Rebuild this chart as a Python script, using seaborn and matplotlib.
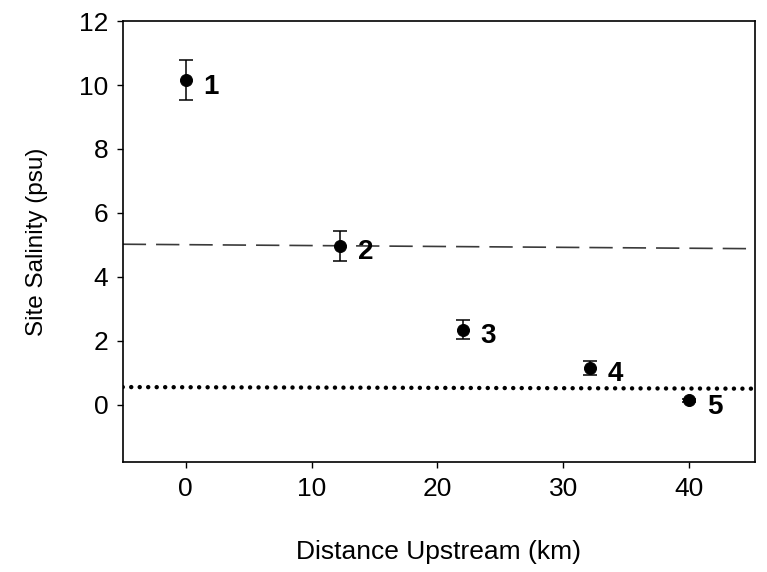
import matplotlib
matplotlib.use("Agg")
import matplotlib.pyplot as plt
import pandas as pd
import seaborn as sns

# site data
sites = ["1", "2", "3", "4", "5"]
distance_km = [0.0, 12.25, 22.0, 32.1, 40.0]
salinity = [10.15, 4.97, 2.35, 1.15, 0.13]
salinity_se = [0.62, 0.46, 0.29, 0.23, 0.05]

# reference lines (two end points each)
dash_x = [-5, 45.2]
dash_y = [5.02, 4.88]
dot_x = [-5, 45.2]
dot_y = [0.55, 0.50]

df = pd.DataFrame({"site": sites, "dist": distance_km, "sal": salinity, "se": salinity_se})

sns.set_style("ticks")
plt.rcParams["font.family"] = ["Liberation Sans", "DejaVu Sans"]
for k in ["text.color", "axes.labelcolor", "xtick.color", "ytick.color", "axes.edgecolor"]:
    plt.rcParams[k] = "black"

fig = plt.figure(figsize=(7.67, 5.72), dpi=100)
ax = fig.add_axes([0.160, 0.192, 0.824, 0.771])

sns.lineplot(x=dash_x, y=dash_y, ax=ax, color="#3a3a3a", lw=1.2,
             linestyle=(0, (14, 6)))
sns.lineplot(x=dot_x, y=dot_y, ax=ax, color="black", lw=3.2,
             linestyle=(0, (0.01, 1.9)), dash_capstyle="round")

ax.errorbar(df.dist, df.sal, yerr=df.se, fmt="none", ecolor="black",
            elinewidth=1.1, capsize=5, capthick=1.1, zorder=3)
sns.scatterplot(data=df, x="dist", y="sal", ax=ax, color="black", s=75,
                edgecolor="black", zorder=4, legend=False)

for _, r in df.iterrows():
    ax.text(r.dist + 1.4, r.sal - 0.2, r.site, fontsize=20, fontweight="bold",
            ha="left", va="center")

ax.set_xlim(-5, 45.2)
ax.set_ylim(-1.8, 12)
ax.set_xticks([0, 10, 20, 30, 40])
ax.set_yticks([0, 2, 4, 6, 8, 10, 12])
ax.tick_params(direction="out", length=4.5, width=1, labelsize=19, pad=6)
for s in ax.spines.values():
    s.set_linewidth(1.2)

ax.set_xlabel("Distance Upstream (km)", fontsize=19, labelpad=28)
ax.set_ylabel("Site Salinity (psu)", fontsize=17.5, labelpad=22)

fig.savefig("out.png", dpi=100)
